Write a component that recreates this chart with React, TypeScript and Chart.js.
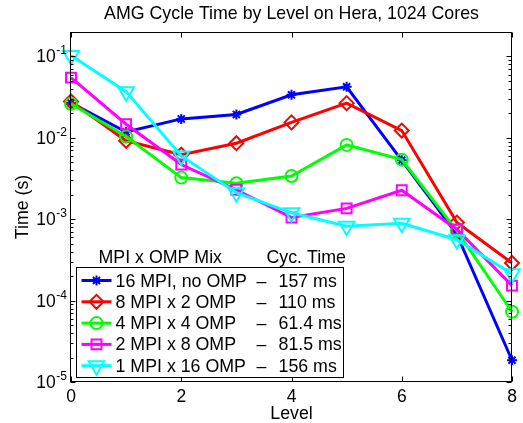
import { useEffect, useRef } from 'react';
import { Chart, registerables } from 'chart.js';
import { drawPoint } from 'chart.js/helpers';

Chart.register(...registerables);

const levels = [0, 1, 2, 3, 4, 5, 6, 7, 8];
const mpi16 = [0.027, 0.0118, 0.0171, 0.0194, 0.0338, 0.0424, 0.0053, 0.00065, 0.0000185];
const mpi8 = [0.028, 0.0092, 0.0062, 0.0086, 0.0155, 0.0267, 0.0123, 0.00091, 0.00029];
const mpi4 = [0.0262, 0.0104, 0.00325, 0.00277, 0.0034, 0.0082, 0.0054, 0.00072, 0.000073];
const mpi2 = [0.055, 0.0147, 0.0047, 0.0023, 0.00105, 0.00136, 0.00227, 0.00075, 0.000153];
const mpi1 = [0.103, 0.037, 0.006, 0.00212, 0.0012, 0.00082, 0.00089, 0.00056, 0.000214];

const seriesNames = ['16 MPI, no OMP', '8 MPI x 2 OMP', '4 MPI x 4 OMP', '2 MPI x 8 OMP', '1 MPI x 16 OMP'];
const cycTimes = ['157 ms', '110 ms', '61.4 ms', '81.5 ms', '156 ms'];
const seriesColors = ['#0000ff', '#ff0000', '#00ff00', '#ff00ff', '#00ffff'];
const seriesStyles = ['star', 'rectRot', 'circle', 'rect', 'triangle'];
const seriesRotations = [0, 0, 0, 0, 180];
const seriesRadius = [5, 7, 6, 7, 9];
const seriesValues = [mpi16, mpi8, mpi4, mpi2, mpi1];

const xTickValues = [0, 2, 4, 6, 8];
const yDecades = [-5, -4, -3, -2, -1];
const titleText = 'AMG Cycle Time by Level on Hera, 1024 Cores';
const xTitle = 'Level';
const yTitle = 'Time (s)';
const legendHeader = 'MPI x OMP Mix';
const legendHeader2 = 'Cyc. Time';

const FONT = '"Liberation Sans", Arial, Helvetica, sans-serif';

const framePlugin = {
  id: 'matlabFrame',
  afterDraw(chart: any) {
    const { ctx, chartArea: a, scales } = chart;
    const xs = scales.x;
    const ys = scales.y;
    ctx.save();
    ctx.strokeStyle = '#000';
    ctx.fillStyle = '#000';
    ctx.lineWidth = 1;
    const L = Math.round(a.left) - 0.5;
    const R = Math.round(a.right) - 0.5;
    const T = Math.round(a.top) + 0.5;
    const B = Math.round(a.bottom) - 0.5;
    ctx.strokeRect(L, T, R - L, B - T);

    // x ticks
    ctx.beginPath();
    for (const v of xTickValues) {
      const px = Math.round(xs.getPixelForValue(v)) + 0.5;
      ctx.moveTo(px, B); ctx.lineTo(px, B - 5);
      ctx.moveTo(px, T); ctx.lineTo(px, T + 5);
    }
    // y ticks
    for (const k of yDecades) {
      for (let m = 1; m <= 9; m++) {
        const val = m * Math.pow(10, k);
        if (val > ys.max * 1.0001 || val < ys.min * 0.9999) continue;
        const py = Math.round(ys.getPixelForValue(val)) + 0.5;
        const len = m === 1 ? 5 : 3;
        ctx.moveTo(L, py); ctx.lineTo(L + len, py);
        ctx.moveTo(R, py); ctx.lineTo(R - len, py);
      }
    }
    ctx.stroke();

    // x tick labels
    ctx.font = `17.5px ${FONT}`;
    ctx.textAlign = 'center';
    ctx.textBaseline = 'alphabetic';
    for (const v of xTickValues) {
      ctx.fillText(String(v), xs.getPixelForValue(v), a.bottom + 20);
    }
    // y tick labels
    for (const k of yDecades) {
      const py = ys.getPixelForValue(Math.pow(10, k));
      const expStr = '-' + String(-k);
      ctx.font = `12px ${FONT}`;
      ctx.textAlign = 'right';
      const ew = ctx.measureText(expStr).width;
      const expRight = a.left - 4;
      ctx.fillText(expStr, expRight, py - 2);
      ctx.font = `17.5px ${FONT}`;
      ctx.fillText('10', expRight - ew - 0.5, py + 6);
    }
    // titles
    ctx.font = `17.8px ${FONT}`;
    ctx.textAlign = 'center';
    ctx.fillText(titleText, (a.left + a.right) / 2, 19);
    ctx.fillText(xTitle, (a.left + a.right) / 2, a.bottom + 37);
    ctx.save();
    ctx.translate(28, (a.top + a.bottom) / 2);
    ctx.rotate(-Math.PI / 2);
    ctx.fillText(yTitle, 0, 0);
    ctx.restore();

    // legend
    const bx = a.left + 5.5;
    const by = a.bottom - 114.5;
    const bw = 267;
    const bh = 110;
    ctx.font = `17.8px ${FONT}`;
    ctx.textAlign = 'left';
    ctx.fillText(legendHeader, bx + 22, by - 5);
    ctx.fillText(legendHeader2, bx + 190, by - 5);
    ctx.fillStyle = '#fff';
    ctx.fillRect(bx, by, bw, bh);
    ctx.strokeStyle = '#000';
    ctx.lineWidth = 1;
    ctx.strokeRect(bx, by, bw, bh);
    for (let i = 0; i < seriesNames.length; i++) {
      const ry = by + 13 + i * 21.3;
      ctx.strokeStyle = seriesColors[i];
      ctx.lineWidth = 3;
      ctx.beginPath();
      ctx.moveTo(bx + 5, ry);
      ctx.lineTo(bx + 35, ry);
      ctx.stroke();
      ctx.fillStyle = 'rgba(0,0,0,0)';
      ctx.lineWidth = 2;
      drawPoint(ctx, {
        pointStyle: seriesStyles[i],
        rotation: seriesRotations[i],
        radius: seriesRadius[i],
        borderWidth: 2,
      } as any, bx + 20, ry);
      ctx.fillStyle = '#000';
      ctx.font = `17.8px ${FONT}`;
      ctx.textAlign = 'left';
      ctx.fillText(seriesNames[i], bx + 39, ry + 6);
      ctx.textAlign = 'center';
      ctx.fillText('\u2013', bx + 185, ry + 6);
      ctx.textAlign = 'left';
      ctx.fillText(cycTimes[i], bx + 202, ry + 6);
    }
    ctx.restore();
  },
};

export default function App() {
  const ref = useRef<HTMLCanvasElement | null>(null);
  useEffect(() => {
    if (!ref.current) return;
    const datasets = seriesValues.map((vals, i) => ({
      label: seriesNames[i],
      data: levels.map((x, j) => ({ x, y: vals[j] })),
      borderColor: seriesColors[i],
      backgroundColor: 'rgba(0,0,0,0)',
      borderWidth: 3,
      pointStyle: seriesStyles[i] as any,
      pointRotation: seriesRotations[i],
      pointRadius: seriesRadius[i],
      pointBorderWidth: 2,
      pointBorderColor: seriesColors[i],
      pointBackgroundColor: 'rgba(0,0,0,0)',
      tension: 0,
      clip: false as any,
      order: seriesNames.length - i,
    }));
    const chart = new Chart(ref.current, {
      type: 'line',
      data: { datasets },
      options: {
        animation: false,
        responsive: false,
        maintainAspectRatio: false,
        layout: { padding: { top: 32, right: 7, left: 0, bottom: 0 } },
        plugins: { legend: { display: false }, title: { display: false }, tooltip: { enabled: false } },
        scales: {
          x: {
            type: 'linear',
            min: 0,
            max: 8,
            ticks: { display: false, stepSize: 2 },
            grid: { display: false, drawTicks: false },
            border: { display: false },
            afterFit: (s: any) => { s.height = 41; },
          },
          y: {
            type: 'logarithmic',
            min: 1e-5,
            max: 0.2,
            ticks: { display: false },
            grid: { display: false, drawTicks: false },
            border: { display: false },
            afterFit: (s: any) => { s.width = 71; },
          },
        },
      },
      plugins: [framePlugin],
    });
    return () => chart.destroy();
  }, []);
  return (
    <div style={{ position: 'fixed', left: 0, top: 0, width: 523, height: 423, background: '#fff' }}>
      <canvas ref={ref} width={523} height={423} style={{ display: 'block' }} />
    </div>
  );
}
